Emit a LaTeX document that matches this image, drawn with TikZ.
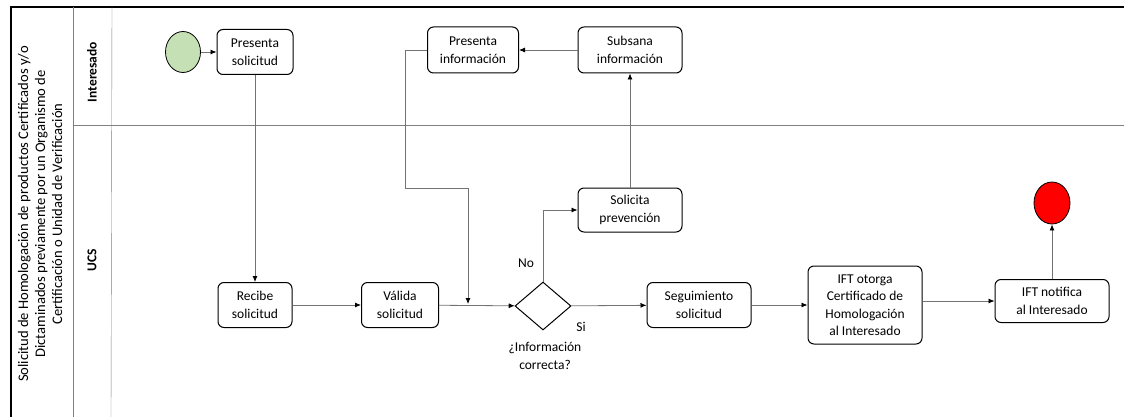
\documentclass[tikz,border=0pt]{standalone}
\usepackage{fontspec}
\setmainfont{Carlito}
\usepackage{xcolor}
\usetikzlibrary{arrows.meta,positioning,shapes.geometric}

\definecolor{startgreen}{HTML}{C5E0B4}
\definecolor{endred}{HTML}{FF0000}

\begin{document}
\begin{tikzpicture}[x=1pt,y=-1pt,
    font=\fontsize{13.5}{17.5}\selectfont,
    task/.style={draw, line width=1pt, rounded corners=6pt, align=center, inner sep=0pt, minimum height=45pt},
    gate/.style={draw, line width=1pt, diamond, minimum width=56pt, minimum height=48pt, inner sep=0pt},
    event/.style={draw, line width=0.8pt, ellipse, minimum width=35pt, minimum height=41pt, inner sep=0pt},
    flow/.style={draw=black!55, line width=0.8pt, -{Latex[length=6pt,width=5pt,color=black]}},
    lane/.style={rotate=90, font=\fontsize{13.5}{17}\selectfont\bfseries}]
    \useasboundingbox (0,0) rectangle (1124,417);

    % Pool and lanes
    \draw[line width=1.4pt] (11,417) -- (11,7) -- (1124,7);
    \draw[black!50] (73,7) -- (73,417);
    \draw[black!50] (112,7) -- (111,417);
    \draw[black!50] (73,125) -- (1124,125);

    \node[rotate=90, align=center, font=\fontsize{14.6}{17}\selectfont] (title) at (40,214)
        {Solicitud de Homologación de productos Certificados y/o\\
         Dictaminados previamente por un Organismo de\\
         Certificación o Unidad de Verificación};
    \node[lane] (laneInt) at (92,72) {Interesado};
    \node[lane] (laneUcs) at (92,260) {UCS};

    % Interesado lane
    \node[event, fill=startgreen] (start) at (183,52) {};
    \node[task, minimum width=76pt] (preSol) at (255,52) {Presenta\\solicitud};
    \node[task, minimum width=91pt, minimum height=46pt] (preInf) at (473,50) {Presenta\\información};
    \node[task, minimum width=104pt, minimum height=46pt] (subInf) at (630,50) {Subsana\\información};

    % UCS lane
    \node[task, minimum width=74pt] (recSol) at (255,305) {Recibe\\solicitud};
    \node[task, minimum width=77pt] (valSol) at (400,305) {Válida\\solicitud};
    \node[gate] (dec) at (543,306) {};
    \node[task, minimum width=104pt, minimum height=44pt] (solPrev) at (630,210) {Solicita\\prevención};
    \node[task, minimum width=104pt] (seg) at (699,305) {Seguimiento\\solicitud};
    \node[task, minimum width=114pt, minimum height=78pt] (otorga) at (865,305)
        {IFT otorga\\Certificado de\\Homologación\\al Interesado};
    \node[task, minimum width=114pt, minimum height=43pt] (notif) at (1052,301) {IFT notifica\\al Interesado};
    \node[event, fill=endred, minimum width=36pt, minimum height=42pt] (fin) at (1052,203) {};

    % Labels of the gateway
    \node (no) at (526,263) {No};
    \node (si) at (581,327) {Si};
    \node[align=center] (pregunta) at (545,356) {¿Información\\correcta?};

    % Flows
    \coordinate (bend) at (468,188);
    \coordinate (join) at (468,304);
    \draw[flow] (start) -- (preSol);
    \draw[flow] (preSol) -- (recSol);
    \draw[flow] (recSol) -- (valSol);
    \draw[flow] (valSol) -- (dec);
    \draw[flow] (preInf.west) -- ++(-22,0) |- (bend) -- (join);
    \draw[flow] (dec.north) |- (solPrev.west);
    \draw[flow] (solPrev) -- (subInf);
    \draw[flow] (subInf) -- (preInf);
    \draw[flow] (dec) -- (seg);
    \draw[flow] (seg) -- (otorga);
    \draw[flow] (otorga.east |- notif.west) -- (notif.west);
    \draw[flow] (notif) -- (fin);
\end{tikzpicture}
\end{document}
